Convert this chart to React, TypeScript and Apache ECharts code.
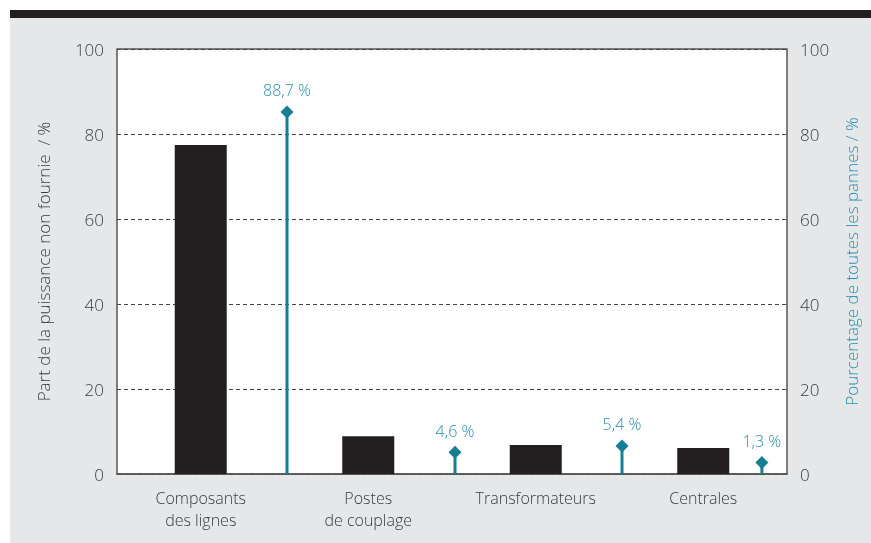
import React, { useEffect, useRef } from "react";
import * as echarts from "echarts";

const categories = ["Composants\ndes lignes", "Postes\nde couplage", "Transformateurs", "Centrales"];
const powerShare = [77.4, 8.9, 6.8, 6.1];
const faultPositions = [1.015, 2.018, 3.015, 3.85];
const faultValues = [85.2, 5.1, 6.6, 2.7];
const faultLabels = ["88,7 %", "4,6 %", "5,4 %", "1,3 %"];

const FONT = "Open Sans";
const TEAL = "#167d93";
const TEAL_TEXT = "#2a8fad";
const TEXT = "#3b3b3b";

export default function App() {
  const ref = useRef<HTMLDivElement>(null);
  useEffect(() => {
    if (!ref.current) return;
    const chart = echarts.init(ref.current, null, { renderer: "svg" });
    const faultData = faultPositions.map((x, i) => [x, faultValues[i]]);
    chart.setOption({
      animation: false,
      textStyle: { fontFamily: FONT },
      graphic: [
        { type: "rect", z: -10, shape: { x: 10, y: 10, width: 861, height: 533 }, style: { fill: "#e6e7e9" } },
        { type: "rect", z: -9, shape: { x: 10, y: 10, width: 861, height: 8 }, style: { fill: "#231f20" } },
      ],
      grid: {
        left: 117, right: 84, top: 49, bottom: 69,
        show: true, backgroundColor: "#ffffff", borderColor: "#555", borderWidth: 1.5,
      },
      xAxis: [
        {
          type: "category", data: categories,
          axisLine: { show: true, lineStyle: { color: "#555", width: 1.5 } },
          axisTick: { show: false },
          axisLabel: { color: TEXT, fontSize: 16, fontWeight: 300, fontFamily: FONT, margin: 13, lineHeight: 22 },
        },
        { type: "value", min: 0, max: 4, show: false },
      ],
      yAxis: [
        {
          type: "value", min: 0, max: 100, interval: 20,
          name: "Part de la puissance non fournie  / %",
          nameLocation: "middle", nameGap: 65, nameRotate: 90,
          nameTextStyle: { color: TEXT, fontSize: 17, fontWeight: 300, fontFamily: FONT },
          axisLine: { show: false }, axisTick: { show: false },
          axisLabel: { color: TEXT, fontSize: 17, fontWeight: 300, fontFamily: FONT, margin: 13 },
          splitLine: { show: true, lineStyle: { color: "#444", type: [4, 3], width: 1 } },
        },
        {
          type: "value", min: 0, max: 100, interval: 20, position: "right",
          name: "Pourcentage de toutes les pannes / %",
          nameLocation: "middle", nameGap: 56, nameRotate: 90,
          nameTextStyle: { color: TEAL_TEXT, fontSize: 17, fontWeight: 300, fontFamily: FONT },
          axisLine: { show: false }, axisTick: { show: false },
          axisLabel: { color: TEXT, fontSize: 17, fontWeight: 300, fontFamily: FONT, margin: 13 },
          splitLine: { show: false },
        },
      ],
      series: [
        {
          type: "bar", data: powerShare, xAxisIndex: 0, yAxisIndex: 0,
          barWidth: 52, itemStyle: { color: "#231f20" },
        },
        {
          type: "bar", data: faultData, xAxisIndex: 1, yAxisIndex: 1,
          barWidth: 3, itemStyle: { color: TEAL }, z: 3,
        },
        {
          type: "scatter", data: faultData, xAxisIndex: 1, yAxisIndex: 1,
          symbol: "diamond", symbolSize: [13, 13], itemStyle: { color: TEAL, opacity: 1 }, z: 4,
          label: {
            show: true, position: "top", distance: 7,
            formatter: (p: any) => faultLabels[p.dataIndex],
            color: TEAL_TEXT, fontSize: 16, fontWeight: 300, fontFamily: FONT,
          },
        },
      ],
    });
    return () => chart.dispose();
  }, []);
  return <div ref={ref} style={{ position: "fixed", left: 0, top: 0, width: 871, height: 543 }} />;
}
